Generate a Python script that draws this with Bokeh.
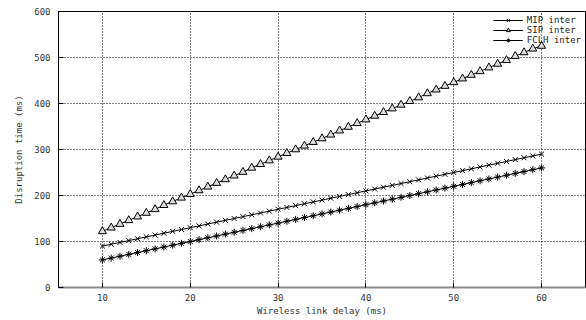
from bokeh.plotting import figure
from bokeh.models import Range1d, FixedTicker, Legend, LegendItem
from bokeh.embed import file_html
from bokeh.resources import INLINE

delay = list(range(10, 61))
mip = [90, 94, 98, 102, 106, 110, 114, 118, 122, 126, 130, 134, 138, 142, 146, 150, 154,
       158, 162, 166, 170, 174, 178, 182, 186, 190, 194, 198, 202, 206, 210, 214, 218, 222,
       226, 230, 234, 238, 242, 246, 250, 254, 258, 262, 266, 270, 274, 278, 282, 286, 290]
sip = [122, 130, 138, 146, 154, 162, 170, 179, 187, 195, 203, 211, 219, 227, 235, 243, 251,
       260, 268, 276, 284, 292, 300, 308, 316, 324, 332, 341, 349, 357, 365, 373, 381, 389,
       397, 405, 413, 422, 430, 438, 446, 454, 462, 470, 478, 486, 494, 503, 511, 519, 525]
fclh = [60, 64, 68, 72, 76, 80, 84, 88, 92, 96, 100, 104, 108, 112, 116, 120, 124,
        128, 132, 136, 140, 144, 148, 152, 156, 160, 164, 168, 172, 176, 180, 184, 188, 192,
        196, 200, 204, 208, 212, 216, 220, 224, 228, 232, 236, 240, 244, 248, 252, 256, 260]
x_ticks = [10, 20, 30, 40, 50, 60]
y_ticks = [0, 100, 200, 300, 400, 500, 600]
labels = ["MIP inter", "SIP inter", "FCLH inter"]

FONT = "DejaVu Sans Mono"

p = figure(width=586, height=320, output_backend="svg", toolbar_location=None,
           x_range=Range1d(5, 65), y_range=Range1d(0, 600),
           min_border_left=58, min_border_right=1, min_border_top=11, min_border_bottom=33)
p.outline_line_color = "black"
p.outline_line_width = 1

p.xaxis.ticker = FixedTicker(ticks=x_ticks)
p.yaxis.ticker = FixedTicker(ticks=y_ticks)
for ax in (p.xaxis[0], p.yaxis[0]):
    ax.major_tick_in = 5
    ax.major_tick_out = 0
    ax.minor_tick_in = 0
    ax.minor_tick_out = 0
    ax.major_label_text_font = FONT
    ax.major_label_text_font_size = "9px"
    ax.major_label_text_color = "#333333"
    ax.axis_label_text_font = FONT
    ax.axis_label_text_font_size = "9px"
    ax.axis_label_text_font_style = "normal"
    ax.axis_label_text_color = "#333333"
    ax.major_tick_line_color = "black"
p.xaxis.axis_label = "Wireless link delay (ms)"
p.yaxis.axis_label = "Disruption time (ms)"
p.xaxis.major_label_standoff = 6
p.xaxis.axis_label_standoff = 2
p.yaxis.major_label_standoff = 8
p.yaxis.axis_label_standoff = 7
p.xaxis.axis_line_color = "#888888"
p.xaxis.axis_line_width = 2
p.yaxis.axis_line_color = "black"

p.xgrid.ticker = FixedTicker(ticks=x_ticks)
p.ygrid.ticker = FixedTicker(ticks=y_ticks[1:])
for g in (p.xgrid[0], p.ygrid[0]):
    g.grid_line_color = "black"
    g.grid_line_dash = "1 2"
    g.grid_line_width = 1

l1 = p.line(delay, mip, line_color="black", line_width=1)
s1 = p.scatter(delay, mip, marker="x", size=7, line_color="black", line_width=1)
l2 = p.line(delay, sip, line_color="black", line_width=1)
s2 = p.scatter(delay, sip, marker="triangle", size=8, line_color="black",
               fill_color="#dddddd", line_width=1)
l3 = p.line(delay, fclh, line_color="black", line_width=1)
s3 = p.scatter(delay, fclh, marker="asterisk", size=7, line_color="black", line_width=1)

legend = Legend(items=[LegendItem(label=labels[0], renderers=[l1, s1]),
                       LegendItem(label=labels[1], renderers=[l2, s2]),
                       LegendItem(label=labels[2], renderers=[l3, s3])],
                location="top_right")
legend.border_line_color = None
legend.background_fill_alpha = 0
legend.label_text_font = FONT
legend.label_text_font_size = "9px"
legend.label_text_color = "#222222"
legend.glyph_width = 30
legend.glyph_height = 10
legend.label_height = 10
legend.spacing = 0
legend.padding = 4
legend.margin = 4
legend.label_standoff = 4
p.add_layout(legend)

open("out.html", "w").write(file_html(p, INLINE))
